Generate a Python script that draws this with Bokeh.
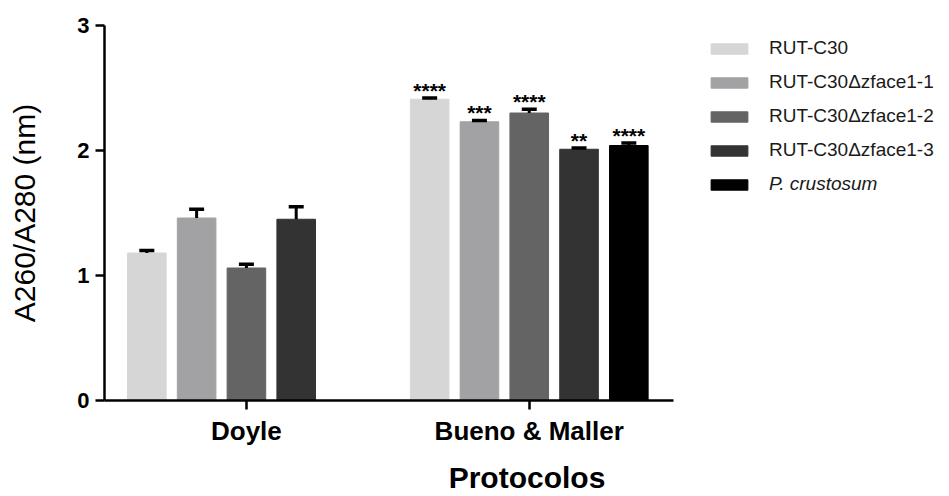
from bokeh.plotting import figure
from bokeh.models import (Range1d, FixedTicker, ColumnDataSource, Whisker, TeeHead,
                          Legend, LegendItem)
from bokeh.core.properties import value
from bokeh.embed import file_html
from bokeh.resources import INLINE

# ---- data -------------------------------------------------------------
groups = ["Doyle", "Bueno & Maller"]
strains = ["RUT-C30", "RUT-C30\u0394zface1-1", "RUT-C30\u0394zface1-2",
           "RUT-C30\u0394zface1-3", "P. crustosum"]
colors = ["#d6d6d6", "#a2a2a5", "#646464", "#333333", "#000000"]

doyle_mean = [1.18, 1.46, 1.06, 1.45]
doyle_sd = [0.02, 0.07, 0.03, 0.10]

bueno_mean = [2.41, 2.23, 2.30, 2.01, 2.04]
bueno_sd = [0.01, 0.01, 0.03, 0.01, 0.02]
bueno_sig = ["****", "***", "****", "**", "****"]

# ---- layout constants -------------------------------------------------
FONT = "Liberation Sans"
group_center = [0.0, 5.68]      # x position of each protocol group
bar_width = 0.775

p = figure(width=949, height=496, output_backend="svg", toolbar_location=None,
           x_range=Range1d(-2.85, 14.12), y_range=Range1d(0, 3),
           min_border_left=104, min_border_right=0, min_border_top=25,
           min_border_bottom=96)
p.outline_line_color = None
p.xgrid.visible = False
p.ygrid.visible = False
p.background_fill_color = "white"
p.border_fill_color = "white"

renderers = []
for i, name in enumerate(strains):
    xs, tops, sds, sig = [], [], [], []
    if i < len(doyle_mean):
        xs.append(group_center[0] + (i - 2))
        tops.append(doyle_mean[i])
        sds.append(doyle_sd[i])
        sig.append("")
    xs.append(group_center[1] + (i - 2))
    tops.append(bueno_mean[i])
    sds.append(bueno_sd[i])
    sig.append(bueno_sig[i])
    src = ColumnDataSource(dict(x=xs, top=tops,
                                upper=[t + s for t, s in zip(tops, sds)],
                                sig=sig))
    r = p.vbar(x="x", top="top", bottom=0, width=bar_width, source=src,
               fill_color=colors[i], line_color=colors[i])
    renderers.append(r)

    w = Whisker(base="x", upper="upper", lower="top", source=src,
                dimension="height", line_color="black", line_width=3,
                upper_head=TeeHead(size=15, line_width=3.5, line_color="black"),
                lower_head=None, level="overlay")
    p.add_layout(w)

    # significance marks above the error caps
    p.text(x="x", y="upper", text="sig", source=src, text_align="center",
           text_baseline="alphabetic", y_offset=-8,
           text_font=value(FONT), text_font_size="21px",
           text_font_style="bold", text_color="black")

# ---- axes -------------------------------------------------------------
for ax in (p.xaxis[0], p.yaxis[0]):
    ax.axis_line_width = 2.5
    ax.axis_line_color = "black"
    ax.major_tick_line_width = 2.5
    ax.major_tick_line_color = "black"
    ax.major_tick_out = 9
    ax.major_tick_in = 0
    ax.minor_tick_line_color = None
    ax.major_label_text_font = FONT
    ax.major_label_text_color = "black"
    ax.axis_label_text_font = FONT
    ax.axis_label_text_color = "black"

p.yaxis.ticker = FixedTicker(ticks=[0, 1, 2, 3])
p.yaxis.major_label_text_font_size = "22px"
p.yaxis.major_label_text_font_style = "bold"
p.yaxis.major_label_standoff = 6
p.yaxis.axis_label = "A260/A280 (nm)"
p.yaxis.axis_label_text_font_size = "30px"
p.yaxis.axis_label_text_font_style = "normal"
p.yaxis.axis_label_standoff = 33

p.xaxis.bounds = (-2.85, 8.57)
p.xaxis.ticker = FixedTicker(ticks=group_center)
p.xaxis.major_label_overrides = {group_center[0]: groups[0], group_center[1]: groups[1]}
p.xaxis.major_label_text_font_size = "26px"
p.xaxis.major_label_text_font_style = "bold"
p.xaxis.major_label_standoff = 6
p.xaxis.axis_label = "Protocolos"
p.xaxis.axis_label_text_font_size = "30px"
p.xaxis.axis_label_text_font_style = "bold"
p.xaxis.axis_label_standoff = 12

# ---- legends (species name set in italics) ----------------------------
def make_legend(items, loc, style):
    lg = Legend(items=items, location=loc, orientation="vertical",
                glyph_width=46, glyph_height=13, label_height=22,
                spacing=12, padding=0, margin=0, label_standoff=17,
                border_line_color=None, background_fill_alpha=0,
                label_text_font=FONT, label_text_font_size="19px",
                label_text_font_style=style, label_text_color="#1a1a1a")
    return lg

items_main = [LegendItem(label=strains[i], renderers=[renderers[i]]) for i in range(4)]
items_sp = [LegendItem(label=strains[4], renderers=[renderers[4]])]
p.add_layout(make_legend(items_main, (602, 239), "normal"))
p.add_layout(make_legend(items_sp, (602, 205), "italic"))

open("out.html", "w").write(file_html(p, INLINE))
